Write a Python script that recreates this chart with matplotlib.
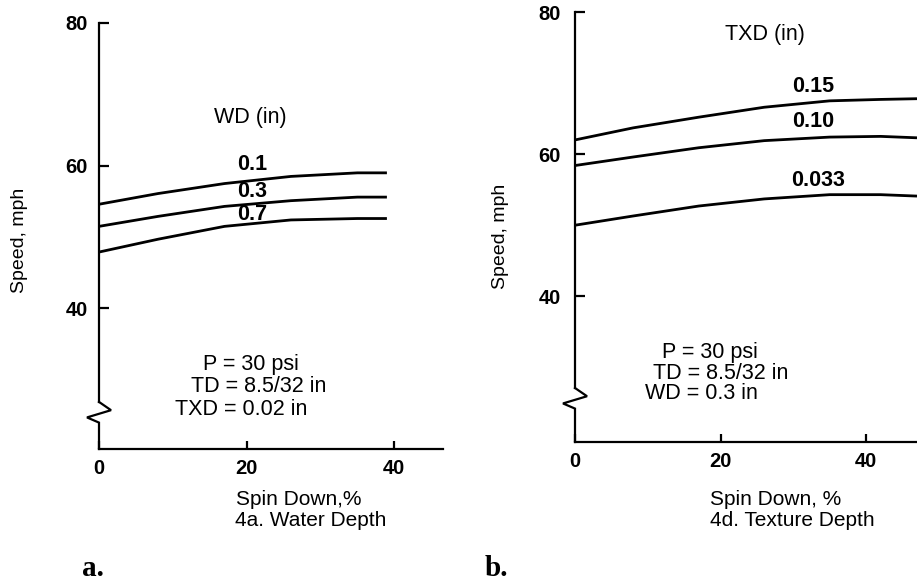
import numpy as np
import matplotlib
matplotlib.use("Agg")
import matplotlib.pyplot as plt
import matplotlib.transforms as mtransforms

############################################
# DATA
############################################

# panel a : water depth
a_spin = [0, 8, 17, 26, 35, 39]
a_wd_01 = [54.6, 56.1, 57.5, 58.5, 59.0, 59.0]
a_wd_03 = [51.5, 52.9, 54.3, 55.1, 55.6, 55.6]
a_wd_07 = [47.9, 49.7, 51.5, 52.4, 52.6, 52.6]
a_labels = ["0.1", "0.3", "0.7"]
a_label_y = [60.1, 56.4, 53.1]

# panel b : texture depth
b_spin = [0, 8, 17, 26, 35, 42, 47]
b_txd_015 = [62.0, 63.7, 65.2, 66.6, 67.5, 67.7, 67.8]
b_txd_010 = [58.4, 59.6, 60.9, 61.9, 62.4, 62.5, 62.3]
b_txd_0033 = [50.0, 51.3, 52.7, 53.7, 54.3, 54.3, 54.1]
b_labels = ["0.15", "0.10", "0.033"]
b_label_y = [69.5, 64.6, 56.3]

x_ticks = [0, 20, 40]
y_ticks = [40, 60, 80]

############################################
# STYLE
############################################

plt.rcParams["font.family"] = ["Liberation Sans", "DejaVu Sans"]
FS = 15.5
FS_TICK = 14.5
LW_AX = 1.6
LW_CURVE = 2.0
W, H = 917, 584


def px_axes(fig, x0, y_top, x1, y_bot):
    return fig.add_axes([x0 / W, 1 - y_bot / H, (x1 - x0) / W, (y_bot - y_top) / H])


def broken_axis(ax, brk_hi, brk_lo):
    # y-axis with a zigzag break near the bottom
    ax.spines["left"].set_bounds(brk_hi, ax.get_ylim()[1])
    tr = mtransforms.blended_transform_factory(ax.transAxes, ax.transData)
    w = 12.0 / (ax.get_position().width * W)
    mid = (brk_hi + brk_lo) / 2
    zx = [0, w, -w, 0, 0]
    zy = [brk_hi, mid + (brk_hi - brk_lo) * 0.1, mid - (brk_hi - brk_lo) * 0.25, brk_lo, ax.get_ylim()[0]]
    ax.plot(zx, zy, color="black", lw=LW_AX, transform=tr, clip_on=False,
            solid_joinstyle="miter")


def style(ax, xlim, ylim, ypad):
    ax.set_xlim(*xlim)
    ax.set_ylim(*ylim)
    for s in ["top", "right"]:
        ax.spines[s].set_visible(False)
    for s in ["left", "bottom"]:
        ax.spines[s].set_linewidth(LW_AX)
    ax.set_xticks(x_ticks)
    ax.set_yticks(y_ticks)
    ax.tick_params(axis="both", direction="in", width=LW_AX, labelsize=FS_TICK)
    ax.tick_params(axis="y", length=7, pad=ypad)
    ax.tick_params(axis="x", length=6, pad=7)
    for t in ax.get_xticklabels() + ax.get_yticklabels():
        t.set_fontweight("bold")
    ax.patch.set_visible(False)


fig = plt.figure(figsize=(W / 100, H / 100), dpi=100)

############################################
# PANEL a
############################################

ax1 = px_axes(fig, 99, 23, 443, 449)
style(ax1, (0, 46.6), (20.3, 80), 8)
for ys in [a_wd_01, a_wd_03, a_wd_07]:
    ax1.plot(a_spin, ys, color="black", lw=LW_CURVE, solid_capstyle="butt")
broken_axis(ax1, 26.9, 24.0)

ax1.text(20.5, 66.7, "WD (in)", ha="center", va="center", fontsize=FS)
for lab, y in zip(a_labels, a_label_y):
    ax1.text(20.8, y, lab, ha="center", va="center", fontsize=FS, fontweight="bold")
ax1.text(20.6, 32.1, "P = 30 psi", ha="center", va="center", fontsize=FS)
ax1.text(21.6, 29.0, "TD = 8.5/32 in", ha="center", va="center", fontsize=FS)
ax1.text(19.3, 25.8, "TXD = 0.02 in", ha="center", va="center", fontsize=FS)

fig.text(236 / W, 1 - 499.5 / H, "Spin Down,%", ha="left", va="center", fontsize=FS - 0.5)
fig.text(235 / W, 1 - 520.8 / H, "4a. Water Depth", ha="left", va="center", fontsize=FS - 0.5)
fig.text(20 / W, 1 - 240 / H, "Speed, mph", rotation=90, ha="center", va="center",
         fontsize=14)
fig.text(82 / W, 1 - 576 / H, "a.", ha="left", va="baseline", fontsize=21,
         fontweight="bold", family="Liberation Serif")

############################################
# PANEL b
############################################

ax2 = px_axes(fig, 575, 12, 917, 442)
style(ax2, (0, 47.0), (19.5, 80), 10)
for ys in [b_txd_015, b_txd_010, b_txd_0033]:
    ax2.plot(b_spin, ys, color="black", lw=LW_CURVE, solid_capstyle="butt")
broken_axis(ax2, 27.1, 24.2)

ax2.text(26.1, 76.9, "TXD (in)", ha="center", va="center", fontsize=FS)
for lab, y in zip(b_labels, b_label_y):
    ax2.text(33.4 if lab == "0.033" else 32.7, y, lab, ha="center", va="center",
             fontsize=FS, fontweight="bold")
ax2.text(18.5, 32.1, "P = 30 psi", ha="center", va="center", fontsize=FS)
ax2.text(20.0, 29.2, "TD = 8.5/32 in", ha="center", va="center", fontsize=FS)
ax2.text(17.4, 26.3, "WD = 0.3 in", ha="center", va="center", fontsize=FS)

fig.text(710 / W, 1 - 499.5 / H, "Spin Down, %", ha="left", va="center", fontsize=FS - 0.5)
fig.text(710 / W, 1 - 520.8 / H, "4d. Texture Depth", ha="left", va="center", fontsize=FS - 0.5)
fig.text(501 / W, 1 - 236 / H, "Speed, mph", rotation=90, ha="center", va="center",
         fontsize=14)
fig.text(485 / W, 1 - 576 / H, "b.", ha="left", va="baseline", fontsize=21,
         fontweight="bold", family="Liberation Serif")

fig.savefig("out.png", dpi=100)
